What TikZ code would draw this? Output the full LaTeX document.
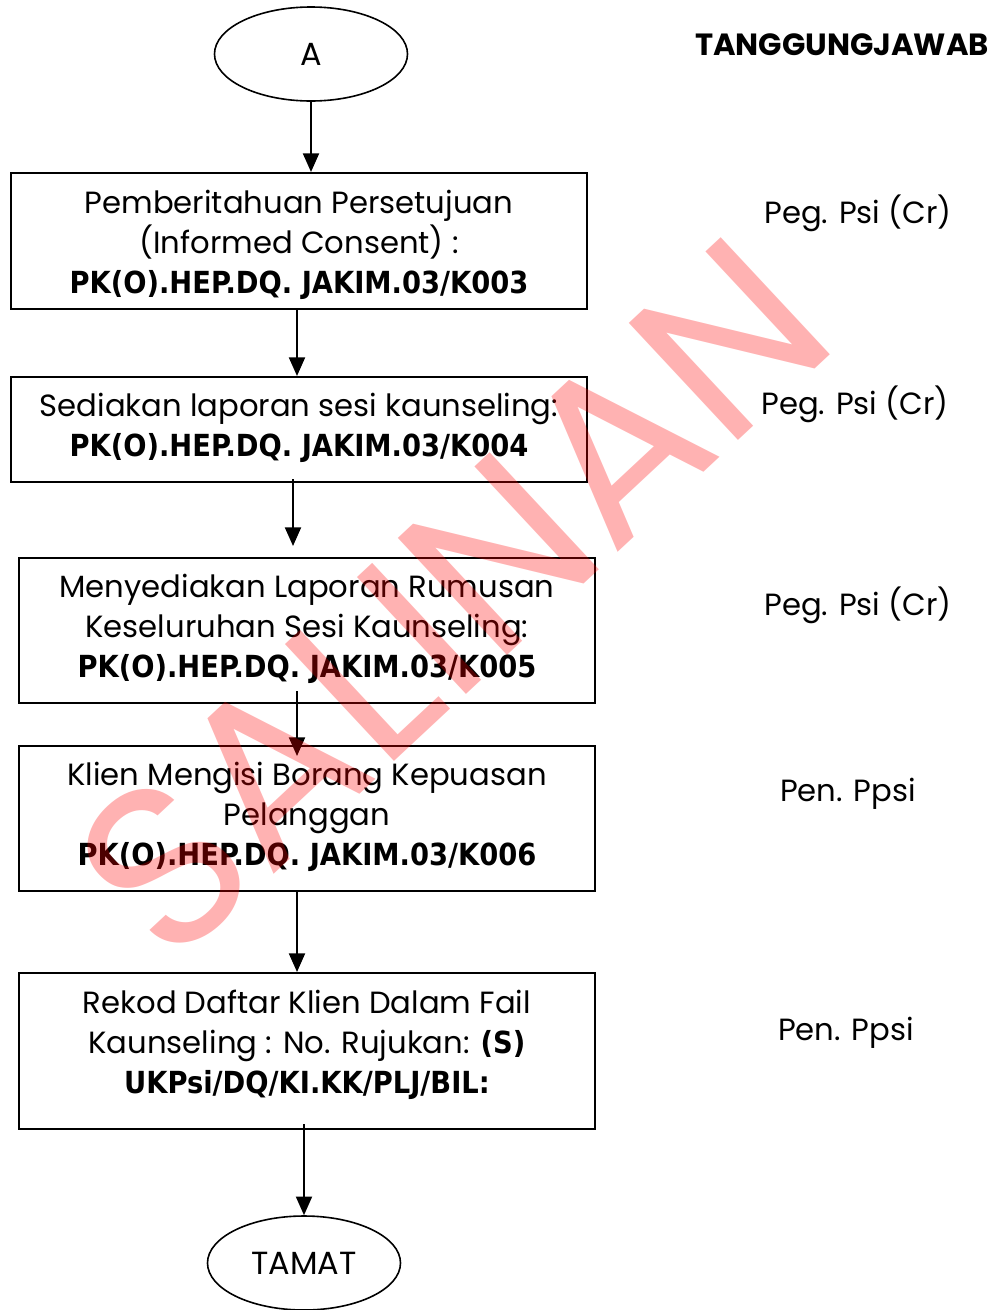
\documentclass[tikz,border=0pt]{standalone}
\usepackage{fontspec}
\setmainfont{Poppins}
\newfontfamily\codefont{DejaVu Sans Condensed}
\usetikzlibrary{arrows.meta,shapes.geometric}
\newcommand{\bodyfont}{\fontsize{23pt}{30pt}\selectfont}
\newcommand{\code}[1]{{\codefont\bfseries\fontsize{22.8pt}{30pt}\selectfont #1}}
\begin{document}
\begin{tikzpicture}[x=0.75pt,y=-0.75pt,
  stepbox/.style={draw, line width=1.5pt, rectangle, inner sep=0pt},
  term/.style={draw, line width=1.2pt, ellipse, inner sep=0pt,
    minimum width={193*0.75pt}, minimum height={94*0.75pt},
    font=\fontsize{24pt}{30pt}\selectfont},
  txt/.style={align=center, font=\bodyfont, inner sep=0pt},
  resp/.style={font=\bodyfont, inner sep=0pt},
  arr/.style={line width=1.5pt, -{Triangle[width=12pt,length=14pt]}},
  wm/.style={rotate=43, text=red, text opacity=0.3, inner sep=0pt,
    font=\fontsize{172pt}{172pt}\selectfont}]
\useasboundingbox (0,0) rectangle (996,1310);

% terminals
\node[term] (a) at (311,54) {A};
\node[term] (end) at (304,1263) {TAMAT};

% process boxes
\node[stepbox, minimum width={576*0.75pt}, minimum height={136*0.75pt}] (b1) at (299,241) {};
\node[stepbox, minimum width={576*0.75pt}, minimum height={105*0.75pt}] (b2) at (299,429.5) {};
\node[stepbox, minimum width={576*0.75pt}, minimum height={145*0.75pt}] (b3) at (307,630.5) {};
\node[stepbox, minimum width={576*0.75pt}, minimum height={145*0.75pt}] (b4) at (307,818.5) {};
\node[stepbox, minimum width={576*0.75pt}, minimum height={156*0.75pt}] (b5) at (307,1051) {};

% box texts
\node[txt] (t1) at (299,245) {Pemberitahuan Persetujuan\\(Informed Consent) :\\\code{PK(O).HEP.DQ. JAKIM.03/K003}};
\node[txt] (t2) at (299,428) {Sediakan laporan sesi kaunseling:\\\code{PK(O).HEP.DQ. JAKIM.03/K004}};
\node[txt] (t3) at (307,629) {Menyediakan Laporan Rumusan\\Keseluruhan Sesi Kaunseling:\\\code{PK(O).HEP.DQ. JAKIM.03/K005}};
\node[txt] (t4) at (307,817) {Klien Mengisi Borang Kepuasan\\Pelanggan\\\code{PK(O).HEP.DQ. JAKIM.03/K006}};
\node[txt] (t5) at (307,1045) {Rekod Daftar Klien Dalam Fail\\Kaunseling : No. Rujukan: \code{(S)}\\\code{UKPsi/DQ/KI.KK/PLJ/BIL:}};

% connectors
\coordinate (c2s) at ([yshift={4*0.75pt}]b2.south);
\coordinate (c3s) at ([yshift={13*0.75pt}]b3.south);
\coordinate (c5s) at ([yshift={6*0.75pt}]b5.south);
\draw[arr] (a.south) -- (a.south |- b1.north);
\draw[arr] (b1.south -| 297,0) -- (b2.north -| 297,0);
\draw[arr] (c2s -| 293,0) -- ([yshift={11*0.75pt}]b3.north -| 293,0);
\draw[arr] (c3s -| 297,0) -- ([yshift={-11*0.75pt}]b4.north -| 297,0);
\draw[arr] (b4.south -| 297,0) -- (b5.north -| 297,0);
\draw[arr] (c5s -| end.north) -- (end.north);

% responsibility column
\node[font=\fontsize{23pt}{26pt}\selectfont\bfseries, inner sep=0pt] (hdr) at (842,45) {TANGGUNGJAWAB};
\node[resp] (r1) at (858,213) {Peg. Psi (Cr)};
\node[resp] (r2) at (855,404) {Peg. Psi (Cr)};
\node[resp] (r3) at (858,605) {Peg. Psi (Cr)};
\node[resp] (r4) at (848,794) {Pen. Ppsi};
\node[resp] (r5) at (846,1033) {Pen. Ppsi};

% copy stamp
\node[wm] (stamp) at (452,598) {SALINAN};
\end{tikzpicture}
\end{document}
